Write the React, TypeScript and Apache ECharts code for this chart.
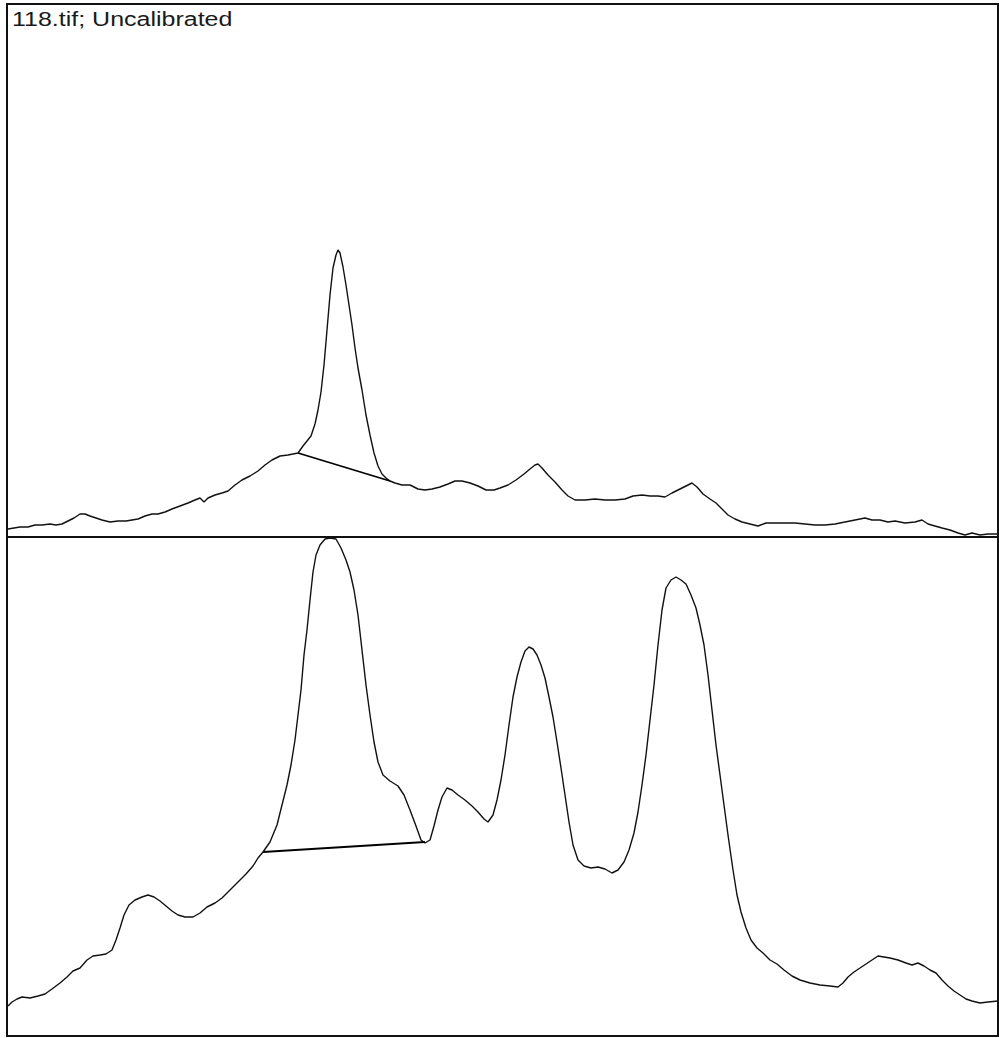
import React, { useEffect, useRef } from "react";
import * as echarts from "echarts";

// Lane profile, upper lane: [distance (px), gray value]
const upperProfile: number[][] = [
  [0, 8], [6, 9], [12, 10], [20, 10], [27, 12], [34, 12], [42, 13], [48, 12], [54, 13], [60, 16],
  [66, 19], [72, 23], [77, 23], [82, 21], [88, 19], [94, 17], [102, 15], [110, 16], [118, 16], [124, 17],
  [130, 18], [137, 21], [144, 23], [150, 23], [157, 25], [164, 28], [172, 31], [180, 34], [187, 37], [192, 39],
  [196, 35], [200, 39], [207, 42], [214, 44], [220, 46], [227, 52], [234, 57], [242, 61], [250, 66], [257, 72],
  [264, 77], [272, 81], [280, 82], [285, 83], [290, 84], [295, 91], [299, 96], [303, 101], [307, 113], [310, 127],
  [313, 145], [316, 172], [319, 207], [322, 242], [325, 269], [328, 282], [330, 287], [332, 284], [335, 270], [338, 252],
  [341, 232], [344, 212], [347, 189], [350, 169], [354, 147], [358, 122], [362, 102], [366, 84], [370, 71], [374, 63],
  [378, 59], [382, 56], [387, 54], [394, 52], [402, 52], [410, 48], [417, 47], [424, 48], [432, 50], [440, 53],
  [447, 56], [454, 56], [462, 54], [470, 51], [478, 47], [486, 47], [492, 49], [500, 52], [508, 57], [516, 63],
  [522, 68], [527, 72], [530, 73], [534, 69], [540, 62], [547, 55], [554, 47], [560, 41], [567, 37], [577, 37],
  [587, 38], [597, 37], [607, 37], [617, 38], [625, 41], [634, 42], [642, 41], [650, 41], [657, 40], [664, 44],
  [672, 48], [680, 52], [684, 54], [689, 50], [695, 43], [702, 38], [708, 34], [714, 28], [720, 22], [727, 18],
  [734, 15], [742, 13], [750, 11], [758, 14], [767, 14], [777, 14], [787, 14], [797, 13], [807, 12], [817, 12],
  [827, 13], [837, 15], [847, 17], [857, 19], [864, 17], [872, 17], [880, 15], [887, 16], [897, 14], [907, 15],
  [914, 17], [920, 13], [927, 11], [934, 9], [942, 7], [950, 4], [957, 2], [964, 4], [972, 2], [980, 3], [990, 3],
];
const upperBaseline: number[][] = [[290, 84], [382, 56]];

// Lane profile, lower lane: [distance (px), gray value]
const lowerProfile: number[][] = [
  [0, 30], [4, 34], [9, 37], [14, 39], [22, 38], [30, 40], [37, 42], [44, 47], [52, 53], [59, 59],
  [65, 65], [72, 68], [79, 76], [85, 80], [92, 81], [98, 82], [104, 86], [108, 96], [112, 108], [116, 121],
  [121, 131], [127, 136], [134, 139], [140, 141], [146, 139], [152, 135], [158, 130], [164, 125], [170, 121], [177, 119],
  [185, 119], [192, 123], [199, 129], [207, 133], [214, 138], [222, 146], [230, 154], [238, 162], [245, 170], [250, 178],
  [255, 184], [262, 194], [269, 211], [274, 231], [279, 251], [283, 271], [287, 296], [290, 321], [293, 346], [296, 381],
  [299, 406], [302, 436], [305, 464], [308, 481], [312, 491], [317, 497], [322, 498], [328, 497], [333, 488], [338, 476],
  [342, 464], [346, 446], [350, 421], [354, 386], [358, 351], [362, 321], [366, 294], [370, 274], [375, 261], [382, 255],
  [390, 250], [396, 241], [402, 226], [408, 210], [413, 196], [417, 193], [422, 196], [426, 210], [430, 226], [434, 239],
  [439, 248], [444, 246], [450, 241], [457, 236], [464, 230], [470, 224], [476, 217], [480, 214], [485, 221], [489, 236],
  [493, 256], [497, 281], [501, 311], [505, 339], [509, 359], [513, 374], [517, 385], [521, 389], [525, 387], [529, 381],
  [533, 371], [537, 358], [541, 339], [545, 319], [549, 294], [553, 268], [557, 241], [561, 214], [565, 191], [570, 176],
  [576, 170], [583, 168], [590, 169], [597, 167], [604, 163], [610, 166], [616, 174], [621, 186], [626, 203], [630, 224],
  [634, 251], [638, 281], [642, 316], [646, 351], [650, 391], [654, 426], [658, 448], [663, 456], [668, 459], [673, 456],
  [678, 452], [683, 441], [688, 428], [692, 411], [696, 391], [700, 361], [704, 326], [708, 291], [712, 261], [716, 231],
  [720, 201], [725, 166], [729, 141], [733, 124], [738, 108], [743, 96], [749, 88], [755, 83], [762, 76], [769, 72],
  [776, 66], [784, 60], [792, 56], [802, 53], [812, 51], [822, 50], [830, 49], [835, 53], [840, 59], [846, 64],
  [852, 68], [858, 72], [864, 76], [870, 80], [876, 79], [882, 78], [890, 76], [898, 73], [904, 71], [910, 73],
  [916, 70], [922, 66], [928, 63], [934, 56], [940, 50], [946, 45], [952, 41], [958, 37], [964, 35], [972, 33],
  [980, 34], [990, 35],
];
const lowerBaseline: number[][] = [[255, 184], [417, 194]];

const titleText = "118.tif; Uncalibrated";
const distanceRange = [-1, 990];
const upperRange = [0, 533];
const lowerRange = [0, 499];

export default function App() {
  const ref = useRef<HTMLDivElement>(null);

  useEffect(() => {
    if (!ref.current) return;
    const chart = echarts.init(ref.current, undefined, { renderer: "svg" });
    const hiddenAxis = { show: false };
    const lineStyle = { color: "#111", width: 1.4 };
    chart.setOption({
      animation: false,
      backgroundColor: "#fff",
      grid: [
        { left: 7, top: 4, width: 991, height: 533, show: true, borderColor: "#111", borderWidth: 2, backgroundColor: "transparent" },
        { left: 7, top: 537, width: 991, height: 499, show: true, borderColor: "#111", borderWidth: 2, backgroundColor: "transparent" },
      ],
      xAxis: [
        { type: "value", gridIndex: 0, min: distanceRange[0], max: distanceRange[1], ...hiddenAxis },
        { type: "value", gridIndex: 1, min: distanceRange[0], max: distanceRange[1], ...hiddenAxis },
      ],
      yAxis: [
        { type: "value", gridIndex: 0, min: upperRange[0], max: upperRange[1], ...hiddenAxis },
        { type: "value", gridIndex: 1, min: lowerRange[0], max: lowerRange[1], ...hiddenAxis },
      ],
      series: [
        { type: "line", xAxisIndex: 0, yAxisIndex: 0, data: upperProfile, symbol: "none", lineStyle, clip: false },
        { type: "line", xAxisIndex: 0, yAxisIndex: 0, data: upperBaseline, symbol: "none", lineStyle: { color: "#000", width: 1.8 } },
        { type: "line", xAxisIndex: 1, yAxisIndex: 1, data: lowerProfile, symbol: "none", lineStyle, clip: false },
        { type: "line", xAxisIndex: 1, yAxisIndex: 1, data: lowerBaseline, symbol: "none", lineStyle: { color: "#000", width: 1.8 } },
      ],
      graphic: [
        {
          type: "text",
          x: 12,
          y: 9,
          scaleX: 1.25,
          style: {
            text: titleText,
            fontFamily: "Liberation Sans, Arial, sans-serif",
            fontSize: 20,
            fill: "#1a1a1a",
            textAlign: "left",
            textVerticalAlign: "top",
          },
        },
      ],
    });
    return () => chart.dispose();
  }, []);

  return (
    <div style={{ position: "fixed", left: 0, top: 0, width: 999, height: 1038, background: "#fff" }}>
      <div ref={ref} style={{ width: 999, height: 1038 }} />
    </div>
  );
}
